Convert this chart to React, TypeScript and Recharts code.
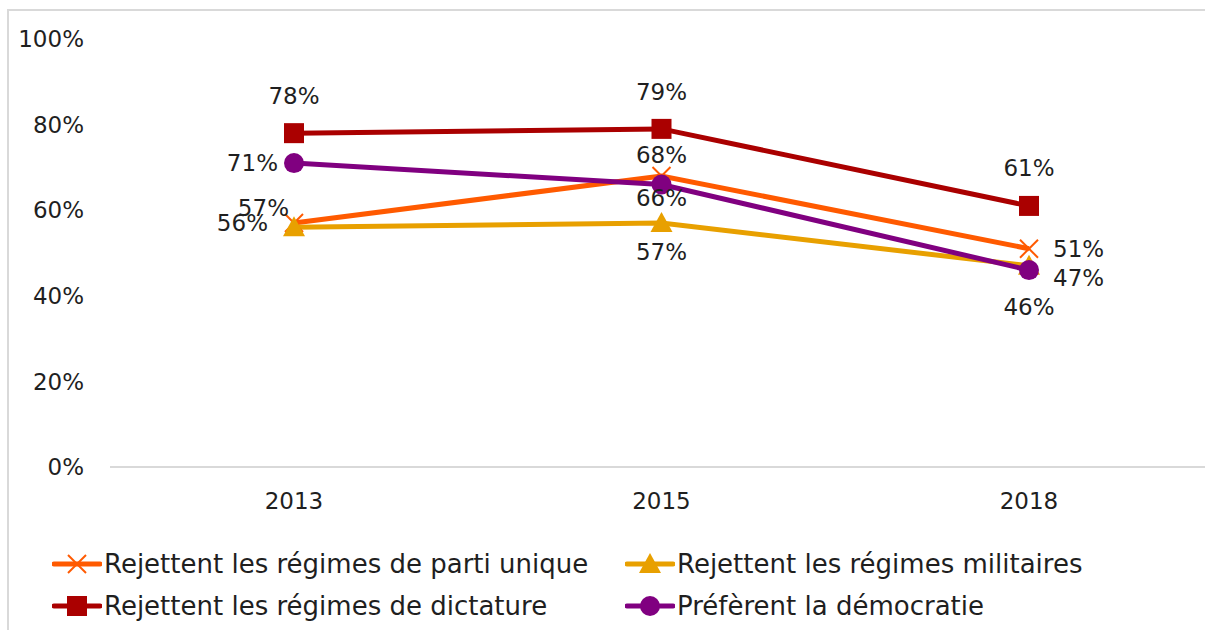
import React from "react";
import { LineChart, Line, XAxis, YAxis, LabelList } from "recharts";

const YEARS = ["2013", "2015", "2018"];
const PARTI_UNIQUE = [57, 68, 51];
const MILITAIRES = [56, 57, 47];
const DICTATURE = [78, 79, 61];
const DEMOCRATIE = [71, 66, 46];
const Y_TICKS = [0, 20, 40, 60, 80, 100];

const FONT = "'DejaVu Sans', Verdana, sans-serif";
const TEXT = "#1f1f1f";

const data = YEARS.map((year, i) => ({
  year,
  partiUnique: PARTI_UNIQUE[i],
  militaires: MILITAIRES[i],
  dictature: DICTATURE[i],
  democratie: DEMOCRATIE[i],
}));

type Pos = { dx: number; dy: number; anchor: "start" | "middle" | "end" };

// where each data label sits relative to its point
const labelPos: Record<string, Pos[]> = {
  partiUnique: [
    { dx: -5, dy: -15, anchor: "end" },
    { dx: 0, dy: -21, anchor: "middle" },
    { dx: 24, dy: 0, anchor: "start" },
  ],
  militaires: [
    { dx: -26, dy: -4, anchor: "end" },
    { dx: 0, dy: 29, anchor: "middle" },
    { dx: 24, dy: 12, anchor: "start" },
  ],
  dictature: [
    { dx: 0, dy: -37, anchor: "middle" },
    { dx: 0, dy: -37, anchor: "middle" },
    { dx: 0, dy: -38, anchor: "middle" },
  ],
  democratie: [
    { dx: -16, dy: 0, anchor: "end" },
    { dx: 0, dy: 13, anchor: "middle" },
    { dx: 0, dy: 37, anchor: "middle" },
  ],
};

const series = [
  { key: "partiUnique", name: "Rejettent les régimes de parti unique", color: "#ff5a00", shape: "x" },
  { key: "militaires", name: "Rejettent les régimes militaires", color: "#e8a000", shape: "triangle" },
  { key: "dictature", name: "Rejettent les régimes de dictature", color: "#aa0000", shape: "square" },
  { key: "democratie", name: "Préfèrent la démocratie", color: "#800080", shape: "circle" },
];

function Marker({ cx, cy, shape, color }: any) {
  if (cx == null || cy == null) return null;
  if (shape === "square") return <rect x={cx - 10} y={cy - 10} width={20} height={20} fill={color} />;
  if (shape === "circle") return <circle cx={cx} cy={cy} r={10} fill={color} />;
  if (shape === "triangle")
    return <polygon points={`${cx},${cy - 11} ${cx + 11},${cy + 9} ${cx - 11},${cy + 9}`} fill={color} />;
  return (
    <g stroke={color} strokeWidth={2}>
      <line x1={cx - 9} y1={cy - 9} x2={cx + 9} y2={cy + 9} />
      <line x1={cx - 9} y1={cy + 9} x2={cx + 9} y2={cy - 9} />
    </g>
  );
}

const makeLabel = (key: string) => (props: any) => {
  const { x, y, value, index } = props;
  const p = labelPos[key][index];
  return (
    <text
      x={x + p.dx}
      y={y + p.dy}
      textAnchor={p.anchor}
      dominantBaseline="central"
      fontSize={23}
      fontFamily={FONT}
      fill={TEXT}
    >
      {value}%
    </text>
  );
};

function LegendIcon({ shape, color }: any) {
  return (
    <svg width={50} height={24} style={{ marginRight: 2 }}>
      <line x1={2} y1={12} x2={48} y2={12} stroke={color} strokeWidth={5} strokeLinecap="round" />
      <Marker cx={25} cy={12} shape={shape} color={color} />
    </svg>
  );
}

export default function App() {
  return (
    <div
      style={{
        position: "absolute",
        left: 0,
        top: 0,
        width: 1205,
        height: 630,
        overflow: "hidden",
        background: "#fff",
        fontFamily: FONT,
      }}
    >
      <div
        style={{
          position: "absolute",
          left: 7,
          top: 9,
          width: 1300,
          height: 700,
          borderLeft: "2px solid #d9d9d9",
          borderTop: "2px solid #d9d9d9",
        }}
      />
      <div style={{ position: "absolute", left: 0, top: 0 }}>
        <LineChart width={1213} height={630} data={data} margin={{ top: 39, right: 0, left: 0, bottom: 103 }}>
          <XAxis
            dataKey="year"
            height={60}
            padding={{ left: 184, right: 184 }}
            axisLine={{ stroke: "#d9d9d9", strokeWidth: 2 }}
            tickLine={false}
            tickMargin={20}
            tick={{ fontSize: 23, fill: TEXT, fontFamily: FONT }}
          />
          <YAxis
            width={110}
            domain={[0, 100]}
            ticks={Y_TICKS}
            axisLine={false}
            tickLine={false}
            tickMargin={20}
            tickFormatter={(v: number) => `${v}%`}
            tick={{ fontSize: 23, fill: TEXT, fontFamily: FONT }}
          />
          {series.map((s) => (
            <Line
              key={s.key}
              dataKey={s.key}
              name={s.name}
              stroke={s.color}
              strokeWidth={5}
              isAnimationActive={false}
              dot={(p: any) => <Marker key={`${s.key}-${p.index}`} cx={p.cx} cy={p.cy} shape={s.shape} color={s.color} />}
              activeDot={false}
            >
              <LabelList dataKey={s.key} content={makeLabel(s.key)} />
            </Line>
          ))}
        </LineChart>
      </div>
      <div
        style={{
          position: "absolute",
          left: 52,
          top: 549,
          width: 1150,
          display: "flex",
          flexWrap: "wrap",
          rowGap: 12,
          fontSize: 26,
          color: TEXT,
        }}
      >
        {series.map((s) => (
          <div key={s.key} style={{ width: 573, display: "flex", alignItems: "center", height: 30, whiteSpace: "nowrap" }}>
            <LegendIcon shape={s.shape} color={s.color} />
            <span>{s.name}</span>
          </div>
        ))}
      </div>
    </div>
  );
}
